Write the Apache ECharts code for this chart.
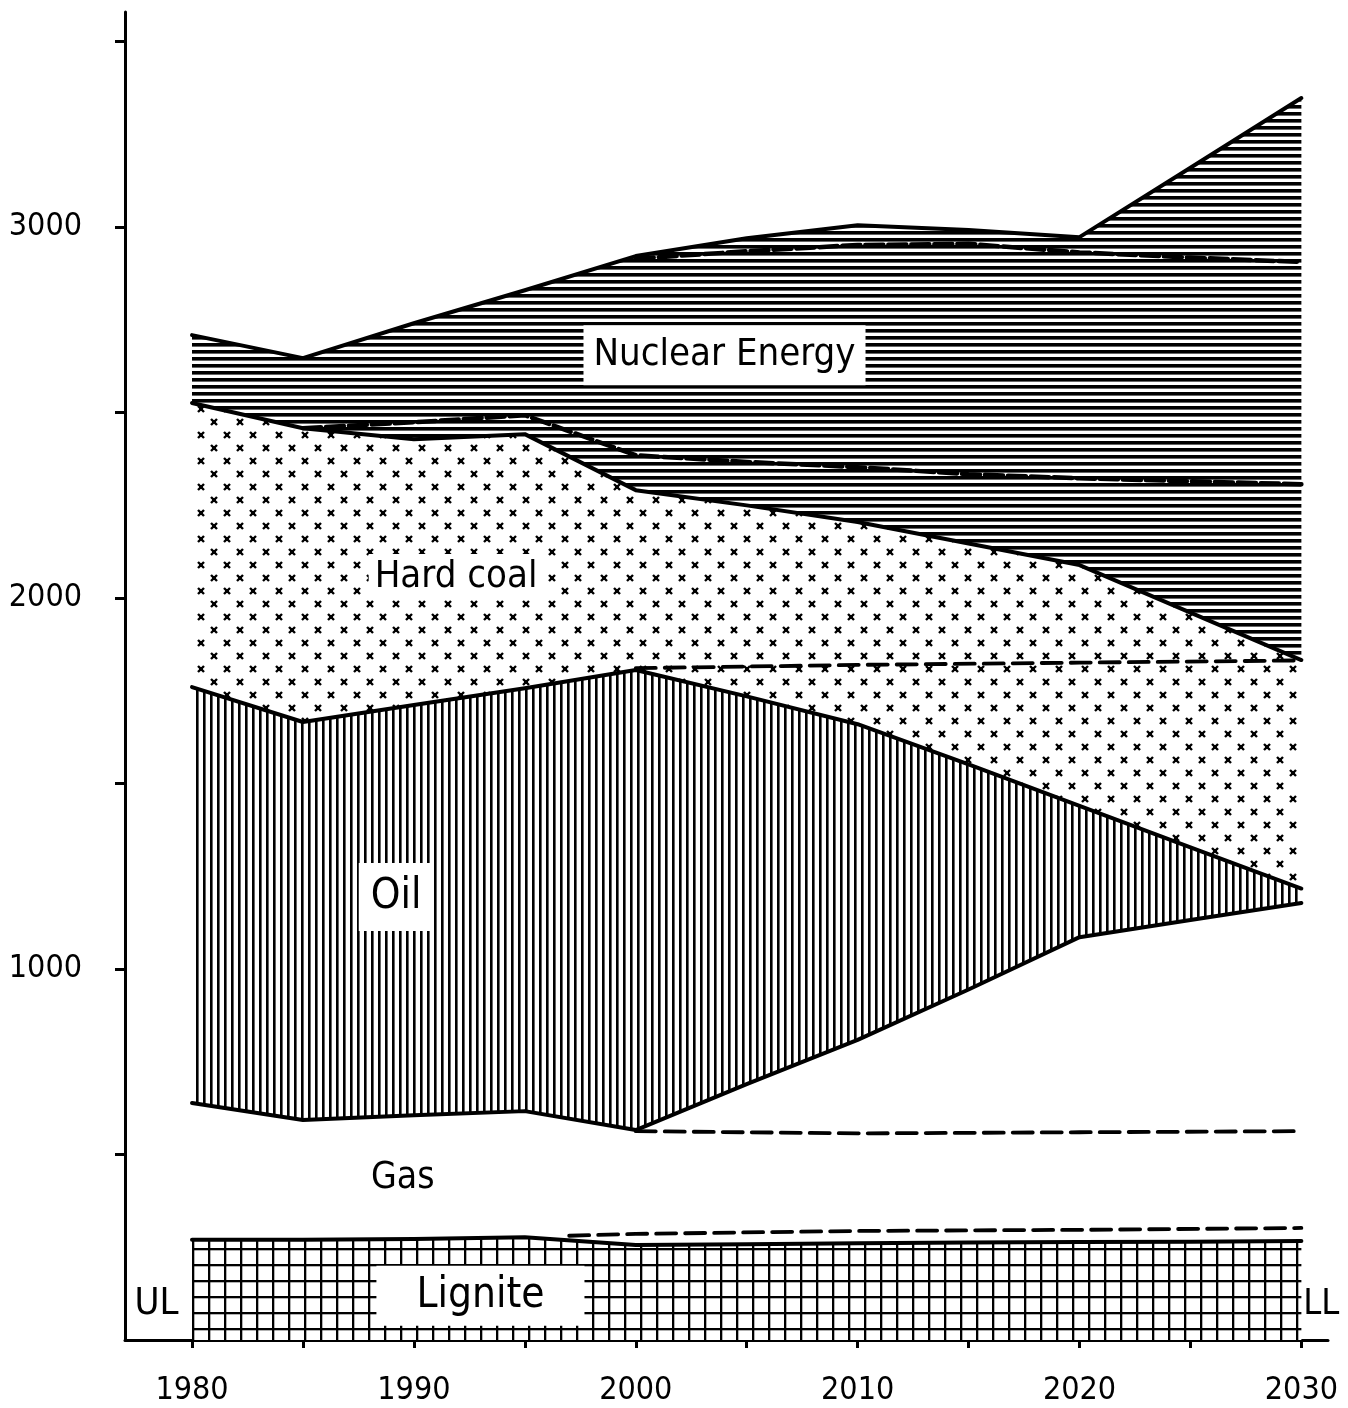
<!DOCTYPE html>
<html><head><meta charset="utf-8">
<script src="https://cdn.jsdelivr.net/npm/echarts@6/dist/echarts.min.js"></script>
<style>html,body{margin:0;padding:0;background:#fff;}#c{width:1348px;height:1408px;}</style>
</head><body><div id="c"></div>
<script>
// ---- data (cumulative upper boundaries) ----
const years       = [1980,1985,1990,1995,2000,2005,2010,2015,2020,2025,2030];
const nuclearTop  = [2709,2647,2741,2830,2922,2970,3005,2992,2973,3160,3348];
const hardCoalTop = [2526,2458,2428,2442,2291,2250,2205,2147,2089,1961,1833];
const oilTop      = [1760,1666,1712,1757,1806,1735,1660,1552,1440,1328,1217];
const gasTop      = [ 639, 593, 606, 617, 566, 690, 809, 945,1086,1132,1178];
const ligniteTop  = [ 270, 270, 272, 277, 256, 258, 261, 263, 264, 265, 267];

const nuclearAltYears  = [2000,2005,2010,2015,2020,2025,2030];
const nuclearAlt       = [2915,2935,2952,2955,2932,2918,2906];
const hardCoalAltYears = [1985,1990,1995,2000,2005,2010,2015,2020,2025,2030];
const hardCoalAlt      = [2458,2474,2493,2385,2367,2353,2334,2323,2315,2307];
const hardCoalLowYears = [2000,2010,2020,2030];
const hardCoalLow      = [1811,1820,1826,1832];
const gasAltYears      = [2000,2010,2020,2030];
const gasAlt           = [563,557,560,563];
const ligniteAltYears  = [1997,2000,2010,2020,2030];
const ligniteAlt       = [281,286,294,297,302];

const xTicks  = [1980,1985,1990,1995,2000,2005,2010,2015,2020,2025,2030];
const xLabels = [1980,1990,2000,2010,2020,2030];
const yTicks  = [500,1000,1500,2000,2500,3000,3500];
const yLabels = [1000,2000,3000];

const labels = [
  {text:'Nuclear Energy', x:2004.0, y:2655, size:38, box:true, pad:[12,10,10,10]},
  {text:'Hard coal',      x:1991.9, y:2057, size:38, box:true, pad:[4,6,4,6]},
  {text:'Oil',            x:1989.2, y:1194, size:42, box:true, pad:[14,12,12,12]},
  {text:'Gas',            x:1989.5, y:437,  size:37, box:false},
  {text:'Lignite',        x:1993.0, y:119,  size:42, box:true, pad:[10,40,8,40]},
  {text:'UL',             x:1978.4, y:97,   size:38, box:false},
  {text:'LL',             x:2030.9, y:94,   size:36, box:false}
];

// ---- patterns ----
function tile(w,h,draw){const c=document.createElement('canvas');c.width=w;c.height=h;const g=c.getContext('2d');g.fillStyle='#fff';g.fillRect(0,0,w,h);g.fillStyle='#000';g.strokeStyle='#000';draw(g);return {image:c,repeat:'repeat'};}
const patNuclear = tile(8,7,g=>{g.fillRect(0,0,8,3.6);});
const patCoal = tile(26,26,g=>{g.lineWidth=2.4;const m=(x,y)=>{g.beginPath();g.moveTo(x-3,y-3);g.lineTo(x+3,y+3);g.moveTo(x+3,y-3);g.lineTo(x-3,y+3);g.stroke();g.fillRect(x-2,y-2,4,4);};m(6,6);m(19,19);});
const patOil = tile(7,8,g=>{g.fillRect(0,0,2.6,8);});
const patLignite = tile(16,16,g=>{g.fillRect(0,0,16,2.3);g.fillRect(0,0,2.3,16);});

const FONT = "'DejaVu Sans Condensed','Liberation Sans Narrow','DejaVu Sans',sans-serif";
const pairs=(xs,vs)=>xs.map((x,i)=>[x,vs[i]]);

// filled band between two boundaries, positioned through the axes (api.coord)
function band(name,upper,lower,fill){return {type:'custom',name,coordinateSystem:'cartesian2d',silent:true,z:1,
  data:[[years[0],0]],
  renderItem:(params,api)=>{
    const up=years.map((y,i)=>api.coord([y,upper[i]]));
    const lo=years.map((y,i)=>api.coord([y,lower?lower[i]:0])).reverse();
    return {type:'polygon',shape:{points:up.concat(lo)},style:{fill:fill,stroke:null}};
  }};}
function line(xs,vs,type,width){return {type:'line',data:pairs(xs,vs),symbol:'none',silent:true,z:5,
  lineStyle:{color:'#000',width:width||4,type:type||'solid',cap:'round',join:'round'}};}

const series=[
  band('Lignite',ligniteTop,null,patLignite),
  band('Oil',oilTop,gasTop,patOil),
  band('Hard coal',hardCoalTop,oilTop,patCoal),
  band('Nuclear Energy',nuclearTop,hardCoalTop,patNuclear),
  line(years,nuclearTop),
  line(years,hardCoalTop),
  line(years,oilTop),
  line(years,gasTop),
  line(years,ligniteTop),
  line(nuclearAltYears,nuclearAlt,[18,5],4.5),
  line(hardCoalAltYears,hardCoalAlt,[18,5],4.5),
  line(hardCoalLowYears,hardCoalLow,[20,9],3.8),
  line(gasAltYears,gasAlt,[20,9],3.8),
  line(ligniteAltYears,ligniteAlt,[20,9],3.8),
  {type:'scatter',silent:true,z:10,symbolSize:0,clip:false,itemStyle:{opacity:1},
   data:labels.map(l=>({value:[l.x,l.y],label:{show:true,position:'inside',formatter:l.text,
     fontFamily:FONT,fontSize:l.size,color:'#000',opacity:1,
     backgroundColor:l.box?'#fff':'transparent',padding:l.box?l.pad:0}}))}
];

const chart=echarts.init(document.getElementById('c'),null,{renderer:'canvas'});
chart.setOption({
  animation:false,backgroundColor:'#fff',
  grid:{left:125,right:20,top:12,bottom:68,containLabel:false,outerBoundsMode:'none'},
  xAxis:{type:'value',min:1976.98,max:2031.2,splitLine:{show:false},
    axisLine:{show:true,onZero:false,lineStyle:{color:'#000',width:3}},
    axisTick:{show:true,customValues:xTicks,length:8,lineStyle:{color:'#000',width:3}},
    axisLabel:{customValues:xLabels,margin:35,color:'#000',fontFamily:FONT,fontSize:32,formatter:v=>String(v)}},
  yAxis:{type:'value',min:0,max:3580,splitLine:{show:false},
    axisLine:{show:true,lineStyle:{color:'#000',width:3}},
    axisTick:{show:true,customValues:yTicks,length:10,lineStyle:{color:'#000',width:3}},
    axisLabel:{customValues:yLabels,margin:43,color:'#000',fontFamily:FONT,fontSize:32,formatter:v=>String(v)}},
  series
});
</script></body></html>
